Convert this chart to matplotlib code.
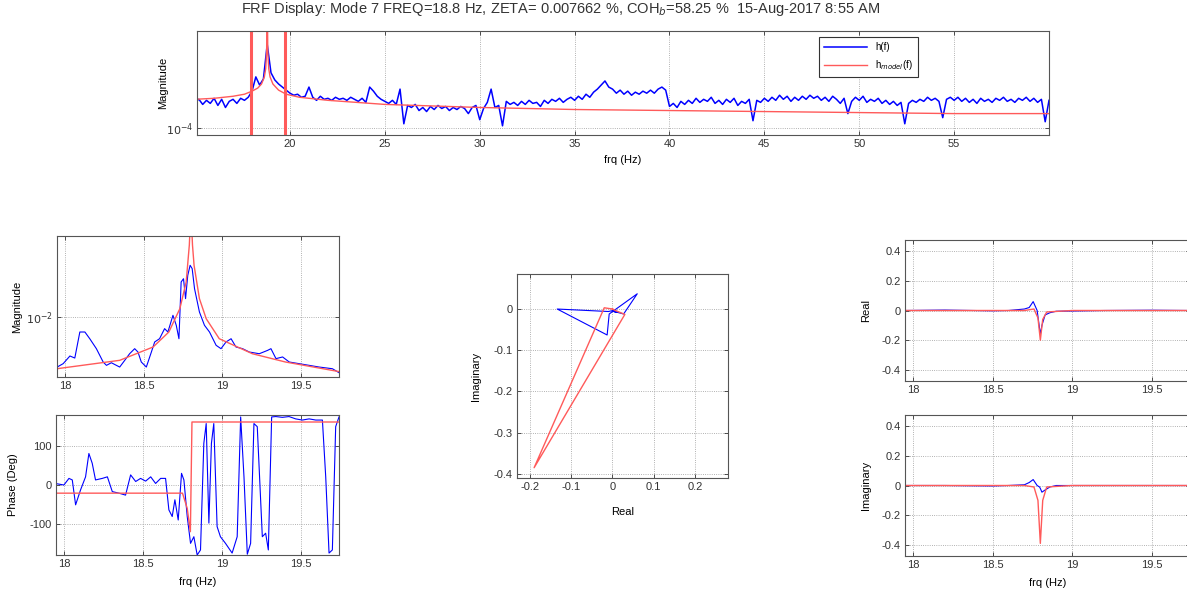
import numpy as np
import matplotlib
matplotlib.use("Agg")
import matplotlib.pyplot as plt
from matplotlib.ticker import NullLocator

plt.rcParams['font.family'] = ['Liberation Sans', 'DejaVu Sans']
plt.rcParams['font.size'] = 8
plt.rcParams['axes.unicode_minus'] = False

# full band |h(f)|, log10 values, 0.2 Hz steps from 15 to 60 Hz
full_start, full_step = 15.0, 0.2
full_h_log = [
    -3.74, -3.72, -3.77, -3.73, -3.76,   # 15
    -3.71, -3.78, -3.72, -3.80, -3.74,   # 16
    -3.72, -3.76, -3.71, -3.73, -3.70,   # 17
    -3.64, -3.50, -3.58, -3.52, -3.18,   # 18
    -3.46, -3.53, -3.57, -3.60, -3.63,   # 19
    -3.66, -3.68, -3.67, -3.70, -3.69,   # 20
    -3.60, -3.70, -3.73, -3.69, -3.72,   # 21
    -3.71, -3.73, -3.70, -3.72, -3.71,   # 22
    -3.73, -3.70, -3.72, -3.74, -3.71,   # 23
    -3.75, -3.60, -3.64, -3.69, -3.72,   # 24
    -3.74, -3.76, -3.73, -3.77, -3.62,   # 25
    -3.96, -3.78, -3.80, -3.77, -3.83,   # 26
    -3.80, -3.84, -3.79, -3.82, -3.78,   # 27
    -3.81, -3.79, -3.83, -3.80, -3.82,   # 28
    -3.79, -3.81, -3.86, -3.80, -3.78,   # 29
    -3.92, -3.81, -3.75, -3.62, -3.80,   # 30
    -3.78, -3.98, -3.74, -3.77, -3.75,   # 31
    -3.78, -3.74, -3.77, -3.73, -3.76,   # 32
    -3.75, -3.79, -3.73, -3.76, -3.72,   # 33
    -3.74, -3.71, -3.75, -3.72, -3.70,   # 34
    -3.73, -3.69, -3.72, -3.67, -3.70,   # 35
    -3.65, -3.62, -3.58, -3.54, -3.60,   # 36
    -3.62, -3.66, -3.63, -3.67, -3.64,   # 37
    -3.68, -3.65, -3.67, -3.64, -3.66,   # 38
    -3.63, -3.66, -3.62, -3.60, -3.63,   # 39
    -3.79, -3.76, -3.80, -3.74, -3.77,   # 40
    -3.73, -3.76, -3.71, -3.75, -3.72,   # 41
    -3.74, -3.70, -3.76, -3.73, -3.77,   # 42
    -3.72, -3.75, -3.71, -3.78, -3.74,   # 43
    -3.76, -3.72, -3.93, -3.73, -3.75,   # 44
    -3.71, -3.74, -3.70, -3.73, -3.68,   # 45
    -3.72, -3.69, -3.74, -3.70, -3.73,   # 46
    -3.69, -3.72, -3.68, -3.71, -3.69,   # 47
    -3.73, -3.70, -3.74, -3.69, -3.72,   # 48
    -3.76, -3.71, -3.86, -3.74, -3.70,   # 49
    -3.73, -3.69, -3.75, -3.72, -3.74,   # 50
    -3.71, -3.76, -3.73, -3.77, -3.74,   # 51
    -3.78, -3.75, -3.96, -3.76, -3.73,   # 52
    -3.75, -3.72, -3.74, -3.70, -3.73,   # 53
    -3.71, -3.74, -3.90, -3.72, -3.70,   # 54
    -3.73, -3.70, -3.74, -3.71, -3.75,   # 55
    -3.72, -3.76, -3.71, -3.74, -3.72,   # 56
    -3.75, -3.71, -3.73, -3.70, -3.74,   # 57
    -3.72, -3.75, -3.71, -3.73, -3.70,   # 58
    -3.74, -3.71, -3.75, -3.72, -3.94,   # 59
    -3.73,
]
model_freq = [15.0, 16, 17, 17.6, 18.0, 18.3, 18.5, 18.65, 18.72, 18.77, 18.8,
              18.83, 18.88, 18.95, 19.1, 19.4, 19.8, 20.5, 22, 25, 30, 35,
              40, 45, 50, 55, 60]
model_log = [-3.72, -3.71, -3.69, -3.67, -3.64, -3.61, -3.57, -3.50, -3.42,
             -3.25, -2.6, -3.25, -3.42, -3.50, -3.57, -3.63, -3.67, -3.70,
             -3.73, -3.77, -3.80, -3.82, -3.83, -3.84, -3.85, -3.86, -3.86]
band_edges = [17.95, 19.74]

# zoomed band: magnitude (log10)
zoom_freq = [17.951, 17.989, 18.032, 18.063, 18.095, 18.127, 18.158, 18.2,
             18.243, 18.264, 18.295, 18.327, 18.348, 18.38, 18.411, 18.443,
             18.464, 18.485, 18.517, 18.549, 18.57, 18.601, 18.633, 18.654,
             18.686, 18.707, 18.724, 18.738, 18.753, 18.766, 18.78, 18.795,
             18.808, 18.823, 18.854, 18.886, 18.918, 18.96, 18.991, 19.023,
             19.055, 19.086, 19.128, 19.171, 19.234, 19.287, 19.308, 19.34,
             19.382, 19.424, 19.487, 19.551, 19.614, 19.698, 19.74]
zoom_mag_log = [-2.417, -2.389, -2.325, -2.342, -2.125, -2.125, -2.181, -2.264,
                -2.375, -2.403, -2.381, -2.403, -2.417, -2.361, -2.306, -2.264,
                -2.292, -2.375, -2.417, -2.292, -2.208, -2.181, -2.097, -2.125,
                -1.986, -2.069, -2.181, -1.708, -1.681, -1.847, -1.653, -1.569,
                -1.597, -1.764, -1.958, -2.069, -2.125, -2.236, -2.264, -2.208,
                -2.181, -2.25, -2.264, -2.292, -2.306, -2.278, -2.264, -2.347,
                -2.333, -2.375, -2.389, -2.403, -2.417, -2.431, -2.464]
zoom_model_freq = [17.95, 18.348, 18.56, 18.66, 18.73, 18.77, 18.79, 18.80,
                   18.81, 18.82, 18.854, 18.897, 18.98, 19.19, 19.4, 19.74]
zoom_model_log = [-2.431, -2.361, -2.25, -2.125, -1.93, -1.708, -1.4, -1.1,
                  -1.4, -1.569, -1.847, -2.014, -2.181, -2.306, -2.375, -2.455]

# zoomed band: phase (deg)
phase_freq = [17.958, 18.0, 18.032, 18.053, 18.074, 18.105, 18.137, 18.158,
              18.179, 18.2, 18.243, 18.275, 18.306, 18.348, 18.39, 18.422,
              18.454, 18.485, 18.517, 18.549, 18.58, 18.612, 18.643, 18.664,
              18.685, 18.702, 18.723, 18.744, 18.759, 18.78, 18.801, 18.822,
              18.843, 18.864, 18.885, 18.9, 18.917, 18.933, 18.948, 18.969,
              18.99, 19.022, 19.064, 19.096, 19.118, 19.139, 19.16, 19.181,
              19.202, 19.223, 19.255, 19.276, 19.293, 19.314, 19.34, 19.382,
              19.424, 19.466, 19.508, 19.551, 19.593, 19.635, 19.656, 19.677,
              19.698, 19.719, 19.74]
phase_deg = [3, 0, 17, 13, -51, -13, 21, 81, 56, 13, 17, 21, -17, -21, -26,
             26, 9, 17, 10, 21, 4, 17, 17, -64, -81, -38, -90, 30, 13, -81,
             -150, -133, -180, -167, 107, 158, -98, 107, 158, -107, -133, -150,
             -175, -133, 175, 21, -178, -150, 158, 150, -133, -124, -167, 175,
             176, 174, 176, 170, 167, 170, 167, 167, 21, -175, -167, 150, 175]
phase_model_freq = [17.95, 18.75, 18.78, 18.80, 18.81, 19.74]
phase_model_deg = [-21, -21, -60, -120, 162, 162]

# Nyquist plane
nyq_re = [0.01, 0.004, -0.01, -0.134, -0.013, -0.008, 0.06, 0.027, 0.0, 0.008, 0.012]
nyq_im = [-0.006, -0.003, -0.006, 0.0, -0.063, -0.012, 0.037, -0.012, -0.005, -0.008, -0.006]
nyq_model_re = [0.0, -0.02, -0.19, 0.03, 0.008, 0.0]
nyq_model_im = [0.0, 0.003, -0.385, -0.013, -0.004, 0.0]

# real / imaginary parts
ri_freq = [17.95, 18.2, 18.5, 18.6, 18.7, 18.73, 18.755, 18.78, 18.795, 18.80,
           18.81, 18.83, 18.86, 18.9, 19.2, 19.5, 19.74]
real_h = [0.0, 0.003, -0.002, 0.0, 0.01, 0.02, 0.06, 0.0, -0.12, -0.16, -0.10,
          -0.03, -0.015, -0.005, 0.0, 0.002, 0.0]
imag_h = [0.0, 0.0, -0.003, 0.0, 0.005, 0.02, 0.04, 0.0, -0.01, -0.02, -0.045,
          -0.03, -0.01, 0.0, 0.0, 0.0, 0.0]
ri_model_freq = [17.95, 18.7, 18.76, 18.785, 18.80, 18.815, 18.84, 19.0, 19.74]
real_model = [0.0, 0.0, 0.01, -0.05, -0.20, -0.06, -0.01, 0.0, 0.0]
imag_model = [0.0, 0.0, -0.01, -0.1, -0.39, -0.1, -0.01, 0.0, 0.0]

BLUE = '#0000ff'
RED = '#ff5a5a'
W, H = 1187, 594


def px_axes(fig, x0, y0, x1, y1):
    # axes from pixel box (top-left origin)
    return fig.add_axes([x0 / W, 1 - y1 / H, (x1 - x0) / W, (y1 - y0) / H])


def style(ax):
    ax.tick_params(direction='in', top=True, right=True, length=3, width=0.6,
                   colors='#333333', pad=3)
    ax.grid(True, linestyle=':', color='#999999', linewidth=0.6)
    for s in ax.spines.values():
        s.set_color('#555555')
        s.set_linewidth(0.8)


fig = plt.figure(figsize=(W / 100, H / 100), dpi=100)
fig.text(561 / W, 1 - 9 / H, 'FRF Display: Mode 7 FREQ=18.8 Hz, ZETA= 0.007662 %, '
         'COH$_{b}$=58.25 %  15-Aug-2017 8:55 AM', ha='center', va='center',
         fontsize=10.5, color='#333333')

# top: full band
ax = px_axes(fig, 197, 31, 1049, 135)
full_freq = full_start + full_step * np.arange(len(full_h_log))
ax.semilogy(full_freq, 10 ** np.array(full_h_log), color=BLUE, lw=1.1, label='h(f)')
ax.semilogy(model_freq, 10 ** np.array(model_log), color=RED, lw=1.0,
            label='h$_{model}$(f)')
for f in band_edges:
    ax.axvline(f, color=RED, lw=2.2)
ax.set_xlim(15.1, 60)
ax.set_ylim(10 ** -4.07, 10 ** -3.05)
ax.set_xticks([20, 25, 30, 35, 40, 45, 50, 55])
ax.set_yticks([1e-4])
ax.set_yticklabels(['$10^{-4}$'])
ax.yaxis.set_minor_locator(NullLocator())
style(ax)
ax.set_xlabel('frq (Hz)')
ax.xaxis.set_label_coords(0.5, -0.19)
ax.set_ylabel('Magnitude')
ax.yaxis.set_label_coords(-0.034, 0.5)
leg = ax.legend(loc='upper left', bbox_to_anchor=(0.724, 0.985), fontsize=7,
                handlelength=4.5, fancybox=False, framealpha=1, borderpad=0.5,
                labelspacing=0.6)
leg.get_frame().set_edgecolor('#333333')
leg.get_frame().set_linewidth(0.8)

# lower left: magnitude
ax = px_axes(fig, 57, 236, 339, 377)
ax.semilogy(zoom_freq, 10 ** np.array(zoom_mag_log), color=BLUE, lw=0.8)
ax.semilogy(zoom_model_freq, 10 ** np.array(zoom_model_log), color=RED, lw=1.0)
ax.set_xlim(17.95, 19.74)
ax.set_ylim(10 ** -2.5, 10 ** -1.325)
ax.set_xticks([18, 18.5, 19, 19.5])
ax.set_xticklabels(['18', '18.5', '19', '19.5'])
ax.set_yticks([1e-2])
ax.set_yticklabels(['$10^{-2}$'])
ax.yaxis.set_minor_locator(NullLocator())
style(ax)
ax.set_ylabel('Magnitude')
ax.yaxis.set_label_coords(-0.124, 0.5)

# lower left: phase
ax = px_axes(fig, 56, 415, 339, 555)
ax.plot(phase_freq, phase_deg, color=BLUE, lw=0.8)
ax.plot(phase_model_freq, phase_model_deg, color=RED, lw=1.0)
ax.set_xlim(17.95, 19.74)
ax.set_ylim(-180, 180)
ax.set_xticks([18, 18.5, 19, 19.5])
ax.set_xticklabels(['18', '18.5', '19', '19.5'])
ax.set_yticks([-100, 0, 100])
style(ax)
ax.set_xlabel('frq (Hz)')
ax.xaxis.set_label_coords(0.5, -0.157)
ax.set_ylabel('Phase (Deg)')
ax.yaxis.set_label_coords(-0.134, 0.5)

# middle: Nyquist
ax = px_axes(fig, 517, 274, 728, 478)
ax.plot(nyq_re, nyq_im, color=BLUE, lw=0.8)
ax.plot(nyq_model_re, nyq_model_im, color=RED, lw=1.0)
ax.set_xlim(-0.2315, 0.28)
ax.set_ylim(-0.41, 0.085)
ax.set_xticks([-0.2, -0.1, 0, 0.1, 0.2])
ax.set_xticklabels(['-0.2', '-0.1', '0', '0.1', '0.2'])
ax.set_yticks([-0.4, -0.3, -0.2, -0.1, 0])
ax.set_yticklabels(['-0.4', '-0.3', '-0.2', '-0.1', '0'])
style(ax)
ax.set_xlabel('Real')
ax.xaxis.set_label_coords(0.5, -0.142)
ax.set_ylabel('Imaginary')
ax.yaxis.set_label_coords(-0.17, 0.5)

# right: real and imaginary parts
for (y0, y1, vals, mvals, lab, show_x) in [
        (240, 381, real_h, real_model, 'Real', False),
        (415, 556, imag_h, imag_model, 'Imaginary', True)]:
    ax = px_axes(fig, 905, y0, 1190, y1)
    ax.plot(ri_freq, vals, color=BLUE, lw=0.8)
    ax.plot(ri_model_freq, mvals, color=RED, lw=1.0)
    ax.set_xlim(17.95, 19.74)
    ax.set_ylim(-0.475, 0.475)
    ax.set_xticks([18, 18.5, 19, 19.5])
    ax.set_xticklabels(['18', '18.5', '19', '19.5'])
    ax.set_yticks([-0.4, -0.2, 0, 0.2, 0.4])
    ax.set_yticklabels(['-0.4', '-0.2', '0', '0.2', '0.4'])
    style(ax)
    ax.set_ylabel(lab)
    ax.yaxis.set_label_coords(-0.12, 0.5)
    if show_x:
        ax.set_xlabel('frq (Hz)')
        ax.xaxis.set_label_coords(0.5, -0.156)

fig.savefig('out.png', dpi=100)
